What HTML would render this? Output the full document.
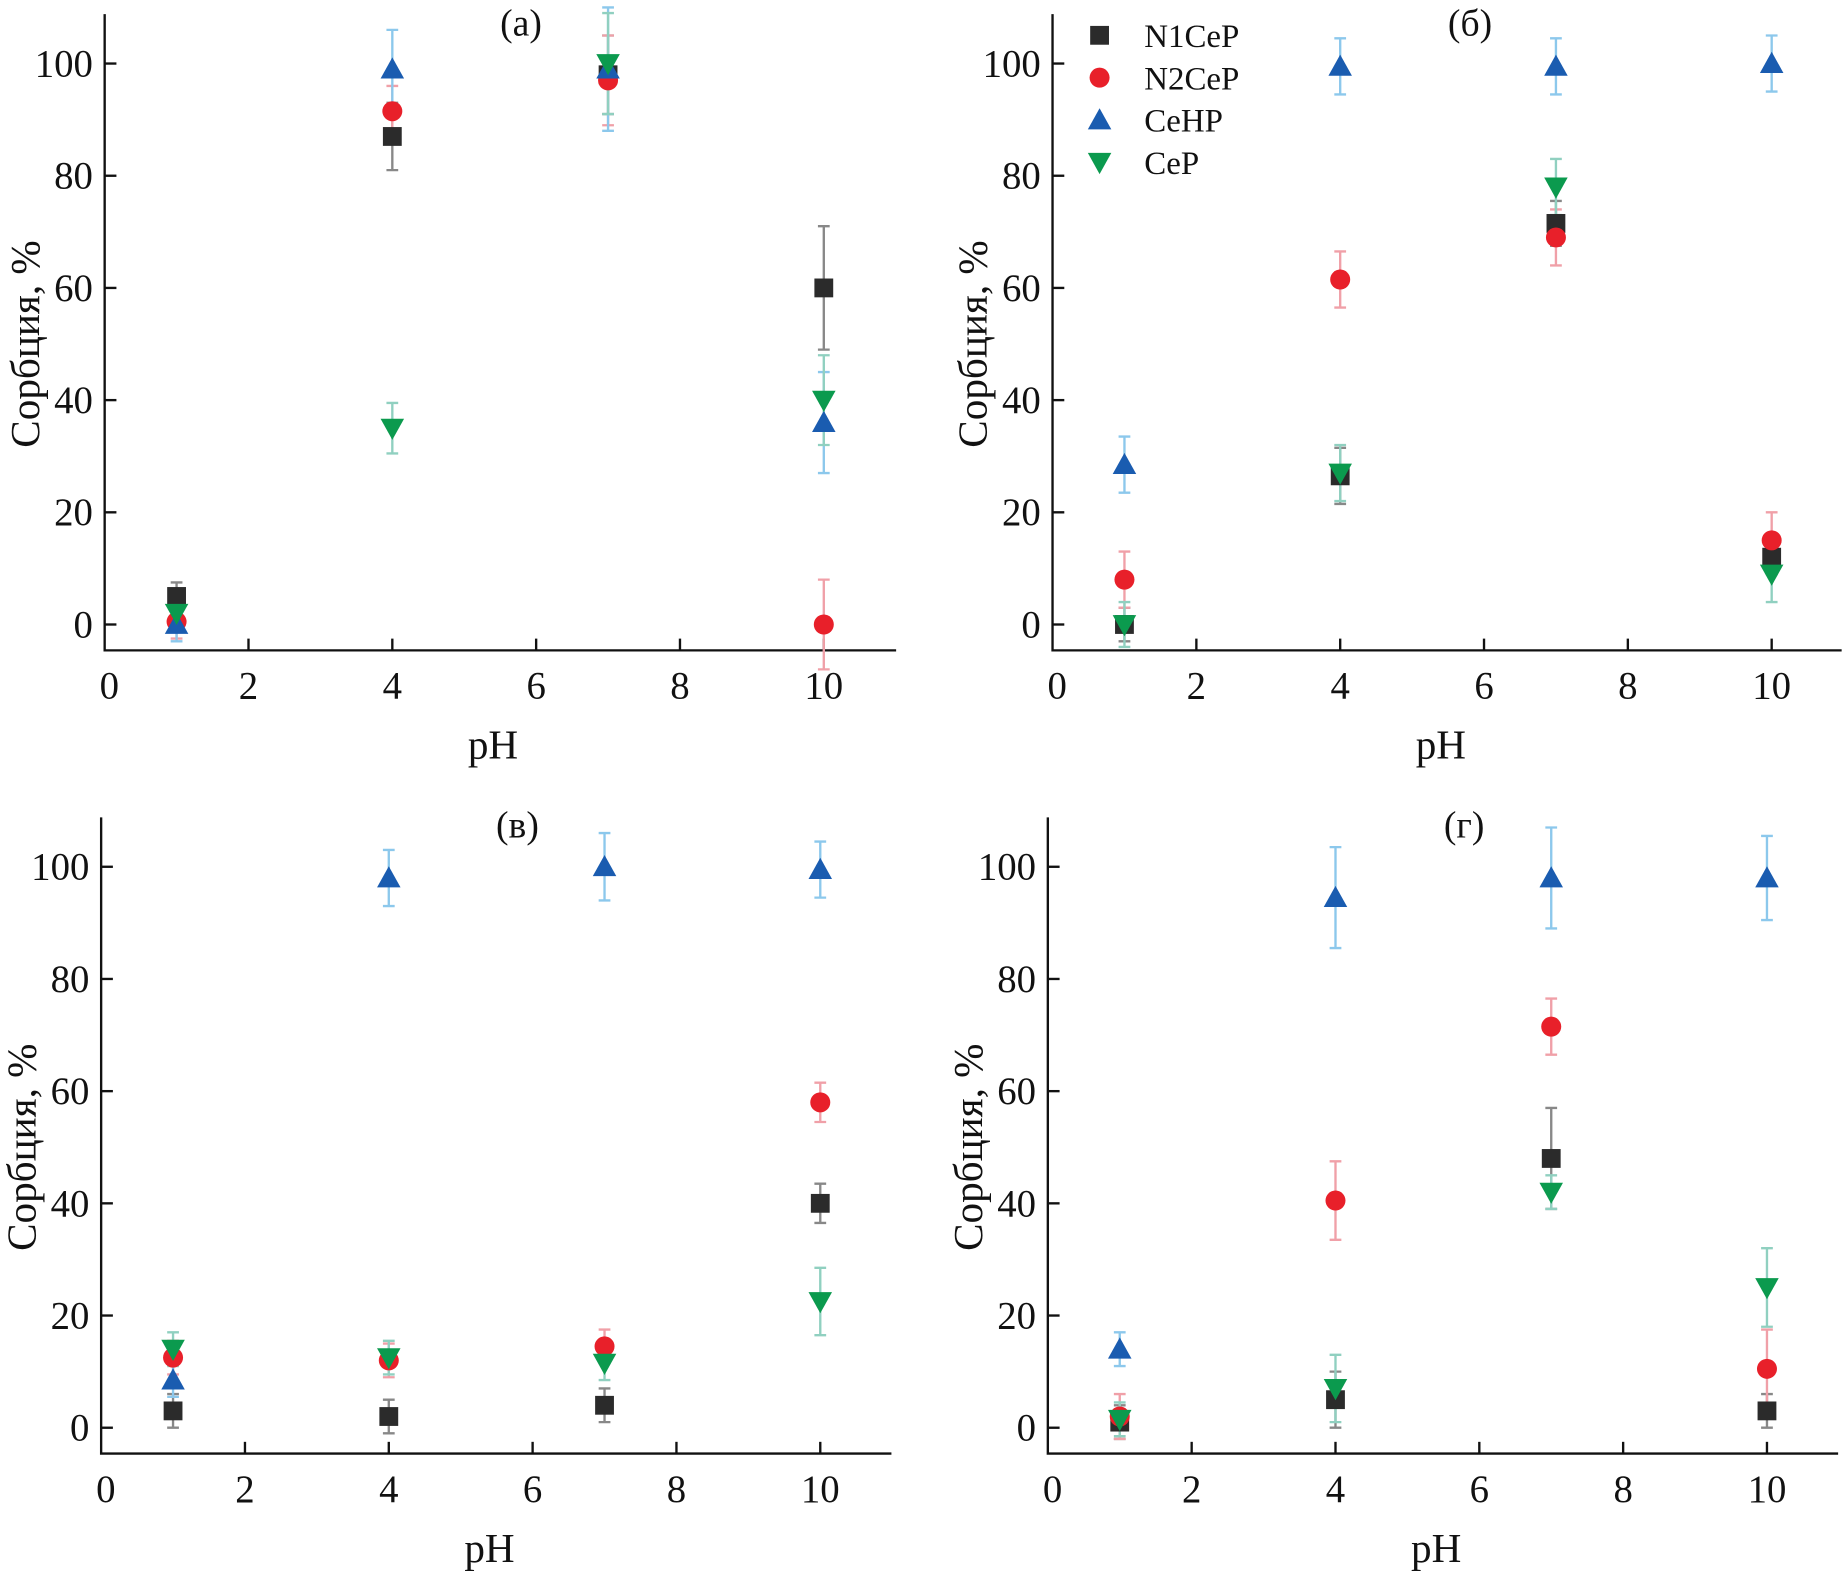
<!DOCTYPE html>
<html><head><meta charset="utf-8">
<style>
html,body{margin:0;padding:0;background:#fff;}
svg{display:block;font-family:"Liberation Serif",serif;}
</style></head>
<body>
<svg id="chart" width="1844" height="1573" viewBox="0 0 1568 1337.5" xmlns="http://www.w3.org/2000/svg"></svg>
<script>
// ---- data ----
const seriesNames = ["N1CeP","N2CeP","CeHP","CeP"];
const phValues = [1,4,7,10];
const xTicks = [0,2,4,6,8,10];
const yTicks = [0,20,40,60,80,100];
const panelLabels = ["(a)","(б)","(в)","(г)"];
// values per panel, per series (N1CeP, N2CeP, CeHP, CeP)
const panelA = [[5,87,98,60],[0.5,91.5,97,0],[0,99,99,36],[2,35,100,40]];
const panelAErr = [[2.5,6,7,11],[3,4.5,8,8],[3,7,11,9],[2,4.5,9,8]];
const panelB = [[0,26.5,71.5,12],[8,61.5,69,15],[28.5,99.5,99.5,100],[0,27,78,9]];
const panelBErr = [[3,5,4,3],[5,5,5,5],[5,5,5,5],[4,5,5,5]];
const panelC = [[3,2,4,40],[12.5,12,14.5,58],[8.5,98,100,99.5],[14,12.5,11.5,22.5]];
const panelCErr = [[3,3,3,3.5],[3,3,3,3.5],[3,5,6,5],[3,3,3,6]];
const panelD = [[1,5,48,3],[2,40.5,71.5,10.5],[14,94.5,98,98],[1.5,7,42,25]];
const panelDErr = [[3,5,9,3],[4,7,5,7],[3,9,9,7.5],[3,6,3,7]];

const colors=["#2b2b2b","#e8202a","#1a5cb0","#0b9a4e"];
const errColors=["#888","#f0a0a8","#8cc8ec","#90d0c0"];
const NS="http://www.w3.org/2000/svg";
const svg=document.getElementById('chart');
function mk(tag,attrs,parent){const e=document.createElementNS(NS,tag);for(const k in attrs)e.setAttribute(k,attrs[k]);(parent||svg).appendChild(e);return e;}

const panels=[
 {ox:89,oy:553,y0:531,xEnd:762,top:12,vals:panelA,errs:panelAErr,lx:443,ly:30},
 {ox:895,oy:553,y0:531,xEnd:1566,top:12,vals:panelB,errs:panelBErr,lx:1250,ly:30},
 {ox:86,oy:1236,y0:1214,xEnd:758,top:695,vals:panelC,errs:panelCErr,lx:440,ly:712},
 {ox:891,oy:1236,y0:1214,xEnd:1563,top:695,vals:panelD,errs:panelDErr,lx:1245,ly:712}
];
const pxPerX=61.15, pxPerY=4.77;

function marker(si,cx,cy,parent){
 if(si===0) return mk('rect',{x:cx-8,y:cy-8,width:16,height:16,fill:colors[0]},parent);
 if(si===1) return mk('circle',{cx:cx,cy:cy,r:8.5,fill:colors[1]},parent);
 if(si===2) return mk('polygon',{points:`${cx},${cy-10} ${cx+10},${cy+8} ${cx-10},${cy+8}`,fill:colors[2]},parent);
 return mk('polygon',{points:`${cx},${cy+10} ${cx+10},${cy-8} ${cx-10},${cy-8}`,fill:colors[3]},parent);
}

panels.forEach((p,pi)=>{
 const g=mk('g',{});
 
 
 const X=v=>p.ox+v*pxPerX, Y=v=>p.y0-v*pxPerY;
 const ax=mk('path',{d:`M${p.ox},${p.top} L${p.ox},${p.oy} L${p.xEnd},${p.oy}`,stroke:'#111','stroke-width':2,fill:'none'},g);
 
 
 xTicks.forEach(t=>{
  if(t>0) mk('line',{x1:X(t),x2:X(t),y1:p.oy,y2:p.oy-10,stroke:'#111','stroke-width':2},g);
  const tx=mk('text',{x:X(t)+(t===0?4:0),y:p.oy+41,'font-size':33,'text-anchor':'middle',fill:'#111'},g);
  tx.textContent=t;
  
  
 });
 yTicks.forEach(t=>{
  mk('line',{x1:p.ox,x2:p.ox+10,y1:Y(t),y2:Y(t),stroke:'#111','stroke-width':2},g);
  const ty=mk('text',{x:p.ox-10,y:Y(t)+11,'font-size':33,'text-anchor':'end',fill:'#111'},g);
  ty.textContent=t;
  
  
 });
 const xt=mk('text',{x:X(5.4),y:p.oy+92,'font-size':35,'text-anchor':'middle',fill:'#111'},g);
 xt.textContent='pH';
 
 
 const yt=mk('text',{x:0,y:0,'font-size':35,'text-anchor':'middle',fill:'#111',transform:`translate(${p.ox-56},${Y(50)}) rotate(-90)`},g);
 yt.textContent='Сорбция, %';
 
 
 const pl=mk('text',{x:p.lx,y:p.ly,'font-size':32,'text-anchor':'middle',fill:'#111'},g);
 pl.textContent=panelLabels[pi];
 
 
 p.vals.forEach((arr,si)=>{
  arr.forEach((v,k)=>{
   const cx=X(phValues[k]), e=p.errs[si][k];
   const eb=mk('path',{d:`M${cx},${Y(v-e)} L${cx},${Y(v+e)} M${cx-5},${Y(v-e)} L${cx+5},${Y(v-e)} M${cx-5},${Y(v+e)} L${cx+5},${Y(v+e)}`,stroke:errColors[si],'stroke-width':2,fill:'none'},g);
   
   
  });
 });
 p.vals.forEach((arr,si)=>{
  arr.forEach((v,k)=>{
   const m=marker(si,X(phValues[k]),Y(v),g);
   
   
  });
 });
});

const lg=mk('g',{});


seriesNames.forEach((n,i)=>{
 const cx=935, cy=30+i*36;
 const m=marker(i,cx,cy,lg);
 
 
 const t=mk('text',{x:973,y:cy+10,'font-size':28,fill:'#111'},lg);
 t.textContent=n;
 
 
});
</script>
</body></html>
